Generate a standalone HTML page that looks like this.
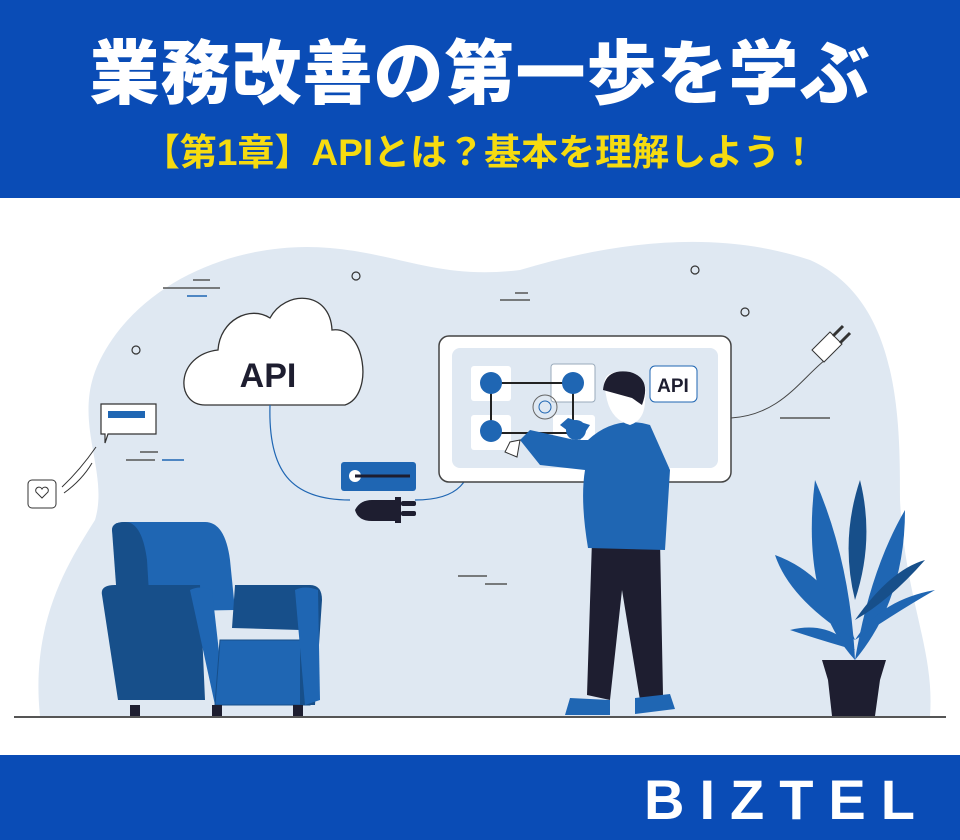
<!DOCTYPE html>
<html><head><meta charset="utf-8"><style>
html,body{margin:0;padding:0}
body{width:960px;height:840px;position:relative;overflow:hidden;background:#fff;font-family:"Liberation Sans","Noto Sans CJK JP",sans-serif}
.top{position:absolute;left:0;top:0;width:960px;height:198px;background:#0a4cb6}
.t1{position:absolute;left:0;width:960px;top:18px;text-align:center;color:#fff;font-size:70px;font-weight:900;letter-spacing:1px;font-family:"Noto Sans CJK JP",sans-serif}
.t2{position:absolute;left:0;width:960px;top:122px;text-align:center;color:#f6db10;font-size:37px;font-weight:700;font-family:"Liberation Sans","Noto Sans CJK JP",sans-serif}
.bot{position:absolute;left:0;top:755px;width:960px;height:85px;background:#0a4cb6}
.logo{position:absolute;right:30px;top:12px;color:#fff;font-size:56px;font-weight:700;letter-spacing:15px}
svg{position:absolute;left:0;top:198px}
</style></head><body>
<div class="top"><div class="t1">業務改善の第一歩を学ぶ</div><div class="t2">【第1章】APIとは？基本を理解しよう！</div></div>
<svg width="960" height="557" viewBox="0 198 960 557">
<path d="M40 716 C30 620 70 560 95 520 C110 470 70 420 100 360 C140 280 240 240 330 248 C400 254 440 280 520 270 C620 240 720 230 810 260 C900 300 900 420 900 500 C905 600 935 650 930 716 Z" fill="#dfe8f2"/>
<line x1="14" y1="717" x2="946" y2="717" stroke="#555" stroke-width="2"/>
<g stroke="#333" fill="none" stroke-width="1.2"><circle cx="356" cy="276" r="4"/><circle cx="136" cy="350" r="4"/><circle cx="695" cy="270" r="4"/><circle cx="745" cy="312" r="4"/></g>
<g stroke="#555" stroke-width="1.5"><line x1="163" y1="288" x2="220" y2="288"/><line x1="193" y1="280" x2="210" y2="280"/><line x1="126" y1="460" x2="155" y2="460"/><line x1="140" y1="452" x2="158" y2="452"/><line x1="500" y1="300" x2="530" y2="300"/><line x1="515" y1="293" x2="528" y2="293"/><line x1="458" y1="576" x2="487" y2="576"/><line x1="485" y1="584" x2="507" y2="584"/><line x1="780" y1="418" x2="830" y2="418"/></g>
<g stroke="#1f66b3" stroke-width="1.5"><line x1="187" y1="296" x2="207" y2="296"/><line x1="162" y1="460" x2="184" y2="460"/></g>
<path d="M205 405 C175 405 175 355 218 350 C220 320 250 305 270 318 C285 290 330 290 332 330 C365 325 375 395 345 405 Z" fill="#fff" stroke="#333" stroke-width="1.3"/>
<text x="268" y="387" font-size="34" font-weight="700" fill="#1e1e30" text-anchor="middle" font-family="Liberation Sans">API</text>
<path d="M270 405 C268 470 290 500 350 500" fill="none" stroke="#1f66b3" stroke-width="1.2"/>
<path d="M415 500 C460 500 472 480 472 450" fill="none" stroke="#1f66b3" stroke-width="1.2"/>
<rect x="341" y="462" width="75" height="29" rx="3" fill="#1f66b3"/><circle cx="355" cy="476" r="6" fill="#fff"/><line x1="355" y1="476" x2="410" y2="476" stroke="#1e1e30" stroke-width="3"/>
<path d="M355 510 Q360 500 372 500 L396 500 L396 521 L372 521 Q358 521 355 510Z" fill="#1e1e30"/>
<rect x="395" y="497" width="6" height="26" fill="#1e1e30"/><rect x="401" y="501" width="15" height="5" rx="2" fill="#1e1e30"/><rect x="401" y="511" width="15" height="5" rx="2" fill="#1e1e30"/>
<path d="M101 404 h55 v30 h-48 l-3 9 v-9 h-4 Z" fill="#fff" stroke="#333" stroke-width="1.2"/>
<rect x="108" y="411" width="37" height="7" fill="#1f66b3"/>
<path d="M62 487 Q80 470 96 447 M64 493 Q82 480 92 463" stroke="#333" fill="none"/>
<rect x="28" y="480" width="28" height="28" rx="4" fill="#fff" stroke="#333"/><path d="M42 498 l-6 -6 a3 3 0 0 1 6 -3 a3 3 0 0 1 6 3z" fill="none" stroke="#333"/>
<rect x="439" y="336" width="292" height="146" rx="10" fill="#fff" stroke="#444" stroke-width="1.5"/>
<rect x="452" y="348" width="266" height="120" rx="8" fill="#dfe8f2"/>
<rect x="471" y="366" width="40" height="35" rx="3" fill="#fff"/><rect x="551" y="364" width="44" height="38" rx="3" fill="#fff" stroke="#9ab"/>
<rect x="471" y="415" width="40" height="35" rx="3" fill="#fff"/><rect x="553" y="415" width="42" height="35" rx="3" fill="#fff"/>
<rect x="491" y="383" width="82" height="50" fill="none" stroke="#222" stroke-width="2"/>
<circle cx="491" cy="383" r="11" fill="#1f66b3"/><circle cx="573" cy="383" r="11" fill="#1f66b3"/><circle cx="491" cy="431" r="11" fill="#1f66b3"/><circle cx="576" cy="430" r="10" fill="#1f66b3"/>
<circle cx="545" cy="407" r="12" fill="none" stroke="#666"/><circle cx="545" cy="407" r="6" fill="none" stroke="#1f66b3"/>
<rect x="650" y="366" width="47" height="36" rx="5" fill="#fff" stroke="#1f66b3"/>
<text x="673" y="392" font-size="19" font-weight="700" fill="#1e1e30" text-anchor="middle" font-family="Liberation Sans">API</text>
<path d="M731 418 C780 415 800 380 825 360" fill="none" stroke="#444"/>
<path d="M812 350 l18 -18 l12 12 l-18 18 z" fill="#fff" stroke="#333"/><path d="M833 336 l10 -10 M840 343 l10 -10" stroke="#333" stroke-width="3"/>
<path d="M592 540 L587 695 L610 700 L622 590 L640 700 L663 695 L660 540 Z" fill="#1e1e30"/>
<path d="M570 698 l40 2 l0 15 l-45 0 z M635 698 l35 -4 l5 15 l-40 5 z" fill="#1f66b3"/>
<path d="M588 440 Q615 415 650 425 L670 470 L665 550 L588 548 Q580 500 585 470 L540 465 L520 440 L530 430 L575 440 Z" fill="#1f66b3"/>
<path d="M580 440 L560 425 L568 418 L590 425Z" fill="#1f66b3"/>
<path d="M520 440 l-10 2 l-5 10 l12 5z" fill="#fff" stroke="#333"/>
<path d="M605 390 Q600 370 625 372 Q650 375 645 400 Q645 420 630 425 Q612 420 607 400Z" fill="#fff"/>
<path d="M603 390 Q605 368 630 372 Q652 378 642 405 L632 398 Z" fill="#1e1e30"/>
<path d="M112 530 Q112 522 125 522 L205 522 Q225 522 230 560 L235 610 L125 612 Z" fill="#1f66b3"/>
<path d="M112 530 Q112 522 125 522 Q142 522 147 560 L150 610 L118 612Z" fill="#174f8a"/>
<path d="M102 595 Q100 585 115 585 L200 585 L205 700 L118 700 Z" fill="#174f8a"/>
<path d="M190 590 Q200 585 212 590 L225 705 L215 705 Z" fill="#1f66b3"/>
<path d="M220 640 L305 640 L310 705 L215 705 Z" fill="#1f66b3" stroke="#174f8a"/>
<path d="M235 585 L310 585 Q322 585 322 600 L315 705 L300 705 L300 630 L232 628 Z" fill="#174f8a"/>
<path d="M295 590 Q305 585 318 590 L320 700 L305 705 Z" fill="#1f66b3"/>
<g fill="#1e1e30"><rect x="130" y="705" width="10" height="11"/><rect x="212" y="705" width="10" height="11"/><rect x="293" y="705" width="10" height="11"/></g>
<g fill="#1f66b3"><path d="M855 660 Q800 600 815 480 Q850 560 855 660Z"/><path d="M855 660 Q905 600 905 510 Q870 570 855 660Z"/><path d="M855 640 Q790 600 775 555 Q830 575 855 640Z"/><path d="M855 640 Q900 610 935 590 Q880 600 855 640Z"/><path d="M855 650 Q820 640 790 630 Q830 620 855 650Z"/></g>
<g fill="#174f8a"><path d="M855 600 Q840 540 860 480 Q875 540 855 600Z"/><path d="M855 620 Q890 570 925 560 Q890 600 855 620Z"/></g>
<path d="M822 660 L886 660 L880 680 L875 716 L832 716 L828 680 Z" fill="#1e1e30"/>
</svg>
<div class="bot"><div class="logo">BIZTEL</div></div>
</body></html>
